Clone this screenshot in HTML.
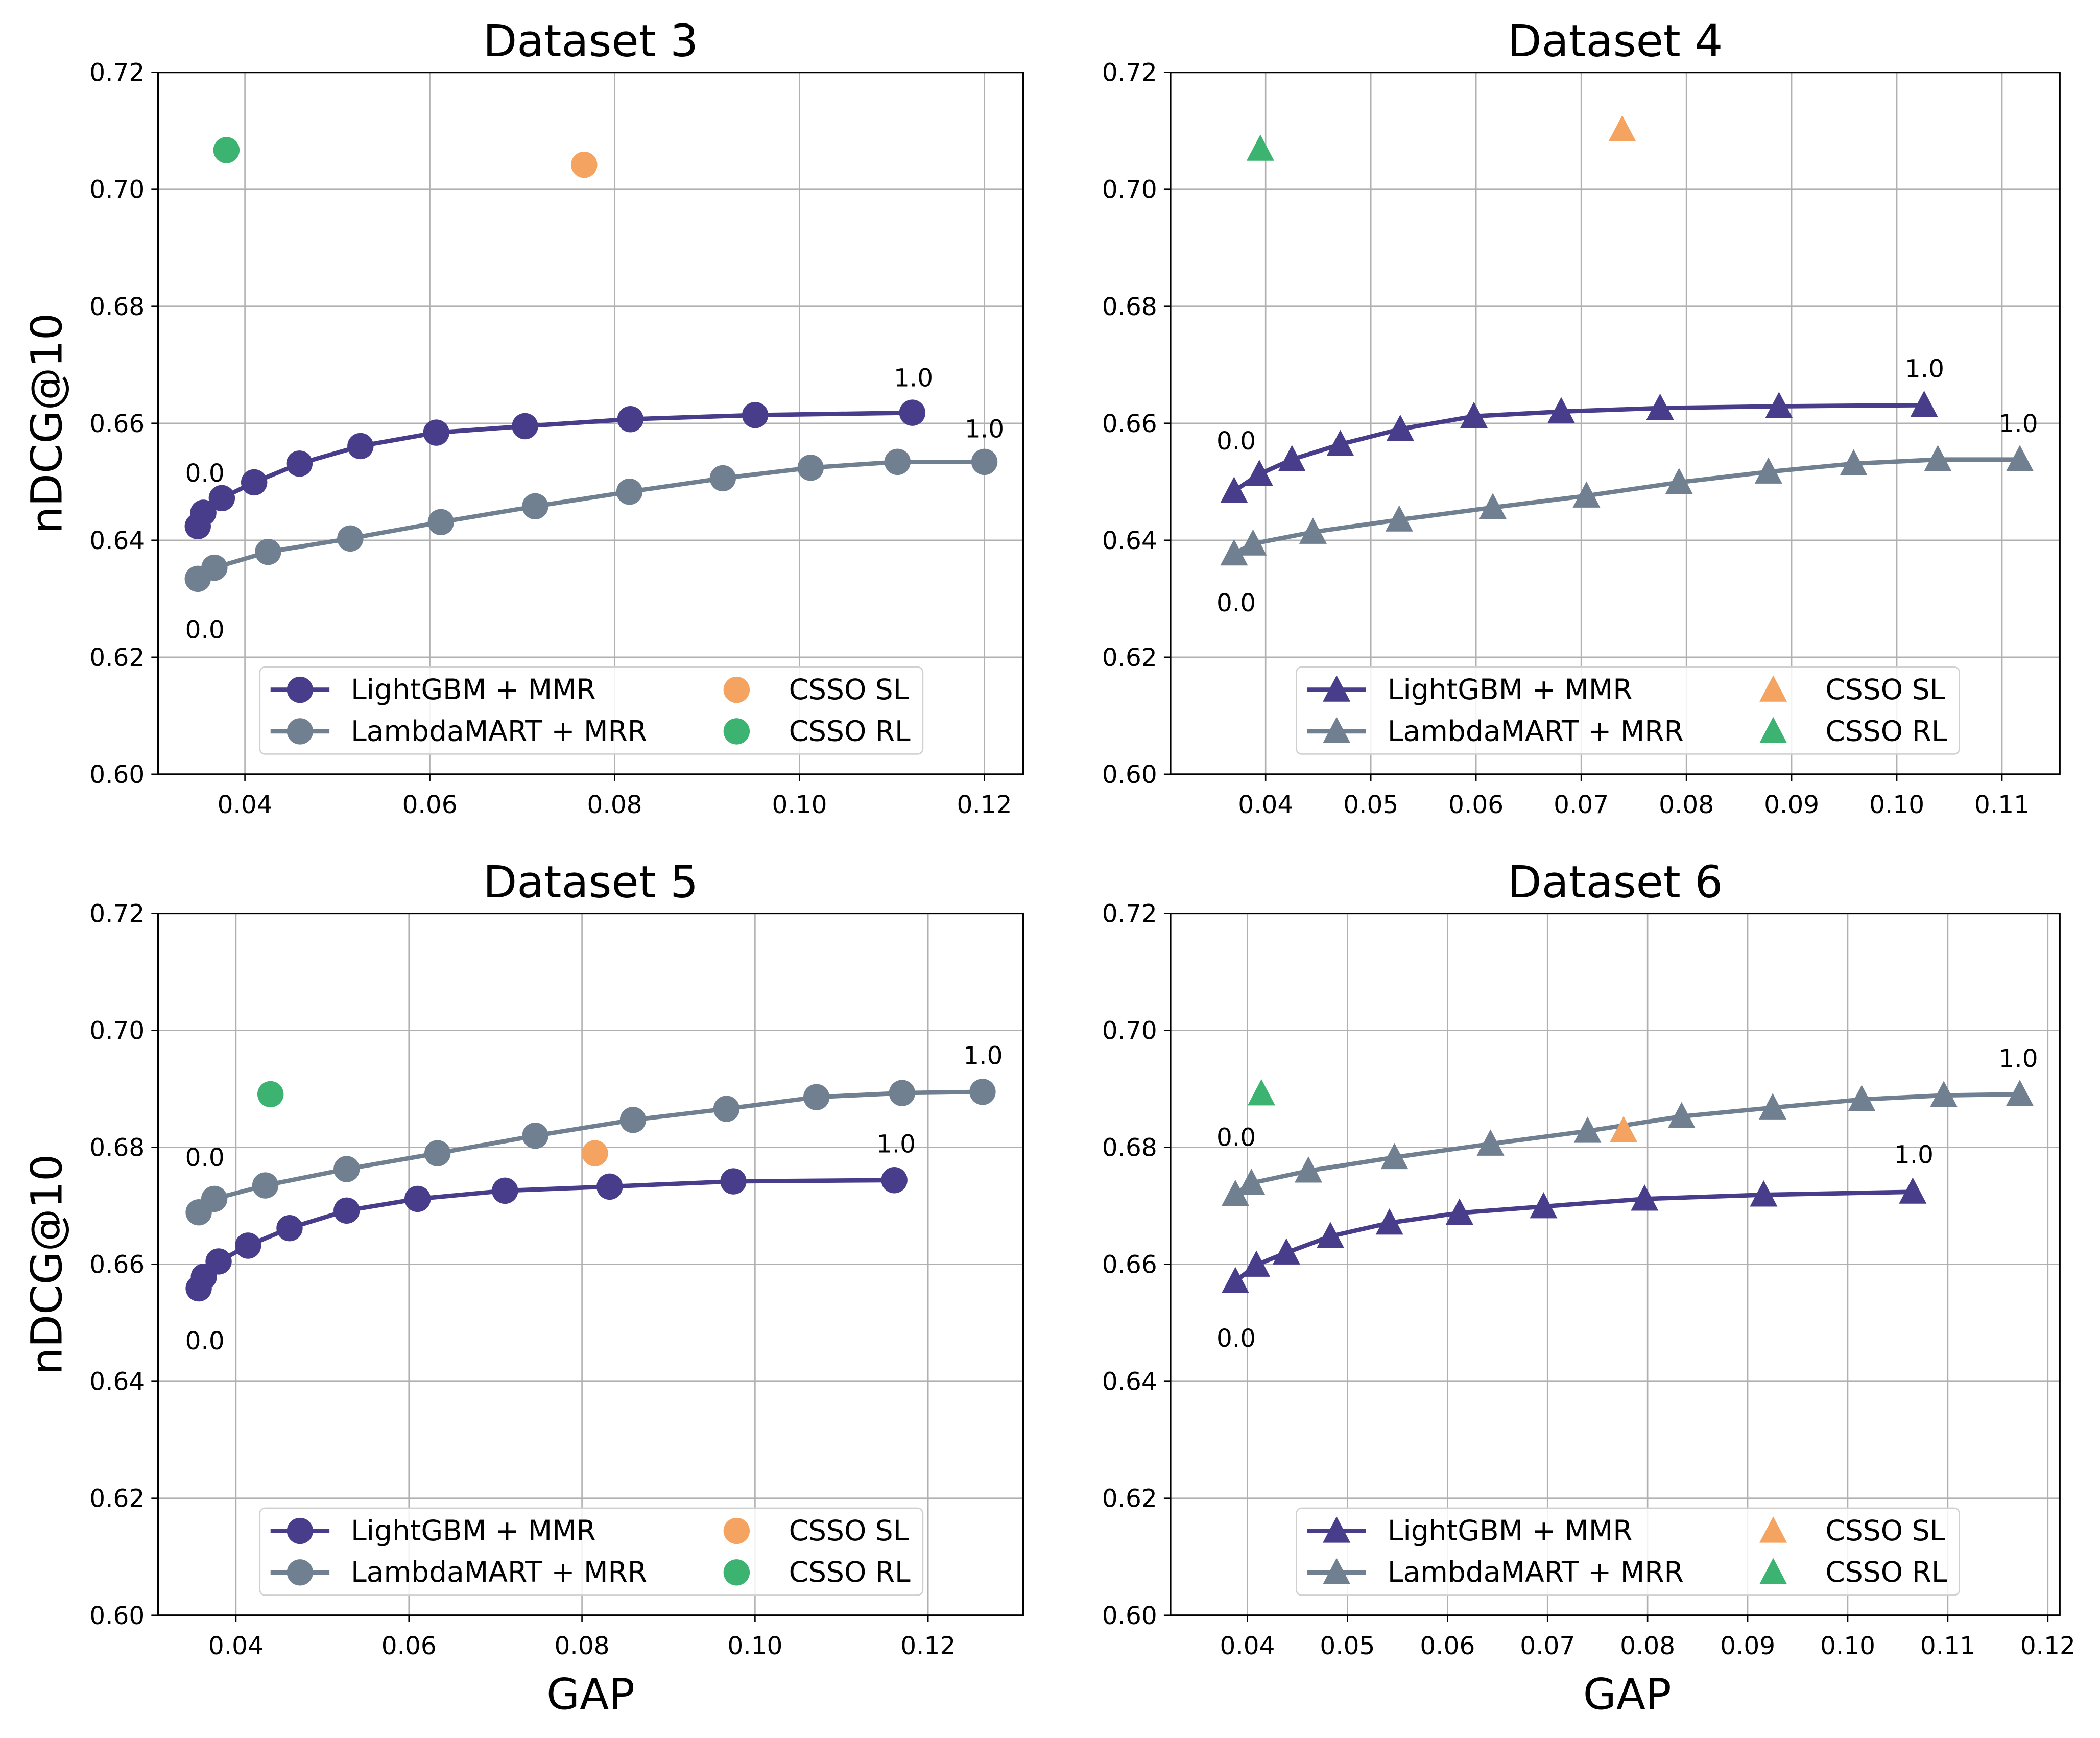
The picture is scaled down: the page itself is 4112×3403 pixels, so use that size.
<!DOCTYPE html>
<html><head><meta charset="utf-8"><style>
html,body{margin:0;padding:0;background:#fff}
svg{display:block;font-family:"DejaVu Sans","Liberation Sans",sans-serif}
</style></head><body>
<svg id="fig" xmlns="http://www.w3.org/2000/svg" width="4112" height="3403" viewBox="0 0 1568 1297.6"></svg>
<script>
// ---- data ----
const d3_lgbm_x=[0.0349,0.0355,0.0375,0.0410,0.0459,0.0525,0.0607,0.0703,0.0817,0.0952,0.1122];
const d3_lgbm_y=[0.6424,0.6447,0.6472,0.6499,0.6531,0.6561,0.6584,0.6595,0.6607,0.6614,0.6618];
const d3_lm_x=[0.0349,0.0367,0.0425,0.0514,0.0612,0.0714,0.0816,0.0917,0.1012,0.1106,0.1200];
const d3_lm_y=[0.6334,0.6353,0.6380,0.6403,0.6431,0.6458,0.6483,0.6506,0.6524,0.6534,0.6534];
const d3_sl=[0.0767,0.7042], d3_rl=[0.0380,0.7067];
const d4_lgbm_x=[0.0370,0.0394,0.0425,0.0471,0.0528,0.0598,0.0681,0.0775,0.0888,0.1026];
const d4_lgbm_y=[0.6484,0.6513,0.6538,0.6564,0.6590,0.6612,0.6620,0.6626,0.6629,0.6631];
const d4_lm_x=[0.0370,0.0388,0.0445,0.0527,0.0616,0.0705,0.0793,0.0878,0.0959,0.1039,0.1117];
const d4_lm_y=[0.6377,0.6394,0.6414,0.6435,0.6456,0.6476,0.6499,0.6517,0.6531,0.6538,0.6538];
const d4_sl=[0.0739,0.7102], d4_rl=[0.0395,0.7069];
const d5_lgbm_x=[0.0357,0.0363,0.0380,0.0414,0.0462,0.0528,0.0610,0.0711,0.0832,0.0975,0.1161];
const d5_lgbm_y=[0.6559,0.6579,0.6605,0.6632,0.6662,0.6692,0.6712,0.6726,0.6733,0.6742,0.6744];
const d5_lm_x=[0.0357,0.0375,0.0434,0.0528,0.0633,0.0746,0.0859,0.0967,0.1071,0.1170,0.1263];
const d5_lm_y=[0.6689,0.6712,0.6735,0.6763,0.6790,0.6820,0.6847,0.6866,0.6886,0.6893,0.6895];
const d5_sl=[0.0815,0.6790], d5_rl=[0.0440,0.6891];
const d6_lgbm_x=[0.0388,0.0409,0.0439,0.0483,0.0542,0.0612,0.0696,0.0797,0.0916,0.1065];
const d6_lgbm_y=[0.6571,0.6599,0.6620,0.6648,0.6671,0.6688,0.6699,0.6712,0.6719,0.6724];
const d6_lm_x=[0.0388,0.0404,0.0461,0.0547,0.0643,0.0740,0.0834,0.0925,0.1014,0.1096,0.1172];
const d6_lm_y=[0.6720,0.6739,0.6760,0.6783,0.6806,0.6828,0.6853,0.6868,0.6882,0.6889,0.6891];
const d6_sl=[0.0776,0.6829], d6_rl=[0.0414,0.6892];
const yTicks=[0.60,0.62,0.64,0.66,0.68,0.70,0.72];
const xTicksA=[0.04,0.06,0.08,0.10,0.12];
const xTicksB=[0.04,0.05,0.06,0.07,0.08,0.09,0.10,0.11];
const xTicksC=[0.04,0.05,0.06,0.07,0.08,0.09,0.10,0.11,0.12];
const titles=["Dataset 3","Dataset 4","Dataset 5","Dataset 6"];

const NS="http://www.w3.org/2000/svg";
const svg=document.getElementById('fig');
function mk(tag,attrs,parent,text){const e=document.createElementNS(NS,tag);for(const k in attrs)e.setAttribute(k,attrs[k]);if(text!==undefined)e.textContent=text;(parent||svg).appendChild(e);return e;}
const PUR="#483d8b",GRY="#708090",ORG="#f4a460",GRN="#3cb371";

function marker(g,shape,cx,cy,col,name){
  let m;
  if(shape==='o'){m=mk('circle',{cx:cx,cy:cy,r:9.8,fill:col},g);}
  else{m=mk('polygon',{points:`${cx},${cy-10.8} ${cx-10.3},${cy+8.8} ${cx+10.3},${cy+8.8}`,fill:col},g);}
  
  
}

function panel(p){
  const g=mk('g',{});
  
  
  const L=p.L,R=p.R,T=p.T,B=p.B;
  const X=v=>L+(v-p.xmin)/(p.xmax-p.xmin)*(R-L);
  const Y=v=>B-(v-0.60)/(0.12)*(B-T);
  p.xt.forEach(v=>{mk('line',{x1:X(v),x2:X(v),y1:T,y2:B,stroke:"#b0b0b0","stroke-width":1},g);
    mk('line',{x1:X(v),x2:X(v),y1:B,y2:B+5,stroke:"#000","stroke-width":1},g);
    const t=mk('text',{x:X(v),y:B+29,"font-size":18.5,"text-anchor":"middle"},g,v.toFixed(2));
    });
  yTicks.forEach(v=>{mk('line',{x1:L,x2:R,y1:Y(v),y2:Y(v),stroke:"#b0b0b0","stroke-width":1},g);
    mk('line',{x1:L-5,x2:L,y1:Y(v),y2:Y(v),stroke:"#000","stroke-width":1},g);
    const t=mk('text',{x:L-10,y:Y(v)+6.5,"font-size":18.5,"text-anchor":"end"},g,v.toFixed(2));
    });
  const series=[[p.lmx,p.lmy,GRY,'lambdamart-series'],[p.lgx,p.lgy,PUR,'lightgbm-series']];
  series.forEach(s=>{
    const pts=s[0].map((x,i)=>X(x)+','+Y(s[1][i])).join(' ');
    const ln=mk('polyline',{points:pts,fill:'none',stroke:s[2],'stroke-width':3.3,'stroke-linejoin':'round'},g);
    
    s[0].forEach((x,i)=>marker(g,p.shape,X(x),Y(s[1][i]),s[2],s[3]+'-point'));
  });
  marker(g,p.shape,X(p.sl[0]),Y(p.sl[1]),ORG,'csso-sl-point');
  marker(g,p.shape,X(p.rl[0]),Y(p.rl[1]),GRN,'csso-rl-point');
  p.labels.forEach(l=>{const t=mk('text',{x:l[0],y:l[1]+6.5,"font-size":18.5,"text-anchor":"middle"},g,l[2]);
    });
  mk('rect',{x:L,y:T,width:R-L,height:B-T,fill:'none',stroke:'#000','stroke-width':1.2},g);
  const tt=mk('text',{x:(L+R)/2,y:T-12,"font-size":33,"text-anchor":"middle"},g,p.title);
  
  const lg=mk('g',{},g);
  
  const lx=p.lx,ly=p.ly;
  mk('rect',{x:lx,y:ly,width:495,height:65,rx:4,fill:'#fff','fill-opacity':0.85,stroke:'#d0d0d0'},lg);
  const ent=[[PUR,'LightGBM + MMR',true,0,17],[GRY,'LambdaMART + MRR',true,0,48],[ORG,'CSSO SL',false,1,17],[GRN,'CSSO RL',false,1,48]];
  ent.forEach(e=>{
    const eg=mk('g',{},lg);
    
    const mx=e[3]?lx+356:lx+30,my=ly+e[4];
    if(e[2])mk('line',{x1:mx-22,x2:mx+22,y1:my,y2:my,stroke:e[0],'stroke-width':3.3},eg);
    marker(eg,p.shape,mx,my,e[0],'legend-marker');
    mk('text',{x:e[3]?lx+395:lx+68,y:my+7,"font-size":21},eg,e[1]);
  });
}

panel({name:'panel-dataset-3',title:titles[0],L:118,R:764,T:54,B:578,xmin:0.0306,xmax:0.1242,xt:xTicksA,shape:'o',
  lgx:d3_lgbm_x,lgy:d3_lgbm_y,lmx:d3_lm_x,lmy:d3_lm_y,sl:d3_sl,rl:d3_rl,lx:194,ly:498,
  labels:[[153,353,'0.0'],[153,470,'0.0'],[682,282,'1.0'],[735,320,'1.0']]});
panel({name:'panel-dataset-4',title:titles[1],L:874,R:1538,T:54,B:578,xmin:0.03096,xmax:0.1155,xt:xTicksB,shape:'^',
  lgx:d4_lgbm_x,lgy:d4_lgbm_y,lmx:d4_lm_x,lmy:d4_lm_y,sl:d4_sl,rl:d4_rl,lx:968,ly:498,
  labels:[[923,329,'0.0'],[923,450,'0.0'],[1437,275,'1.0'],[1507,316,'1.0']]});
panel({name:'panel-dataset-5',title:titles[2],L:118,R:764,T:682,B:1206,xmin:0.0310,xmax:0.1310,xt:xTicksA,shape:'o',
  lgx:d5_lgbm_x,lgy:d5_lgbm_y,lmx:d5_lm_x,lmy:d5_lm_y,sl:d5_sl,rl:d5_rl,lx:194,ly:1126,
  labels:[[153,864,'0.0'],[153,1001,'0.0'],[669,854,'1.0'],[734,788,'1.0']]});
panel({name:'panel-dataset-6',title:titles[3],L:874,R:1538,T:682,B:1206,xmin:0.03232,xmax:0.1212,xt:xTicksC,shape:'^',
  lgx:d6_lgbm_x,lgy:d6_lgbm_y,lmx:d6_lm_x,lmy:d6_lm_y,sl:d6_sl,rl:d6_rl,lx:968,ly:1126,
  labels:[[923,849,'0.0'],[923,999,'0.0'],[1429,862,'1.0'],[1507,790,'1.0']]});

[[316,'y-axis-title-top'],[944,'y-axis-title-bottom']].forEach(a=>{
  const t=mk('text',{x:0,y:0,"font-size":32,"text-anchor":"middle",transform:`translate(46,${a[0]}) rotate(-90)`},svg,'nDCG@10');
  });
[[441,'x-axis-title-left'],[1215,'x-axis-title-right']].forEach(a=>{
  const t=mk('text',{x:a[0],y:1276,"font-size":32,"text-anchor":"middle"},svg,'GAP');
  });
</script>
</body></html>
